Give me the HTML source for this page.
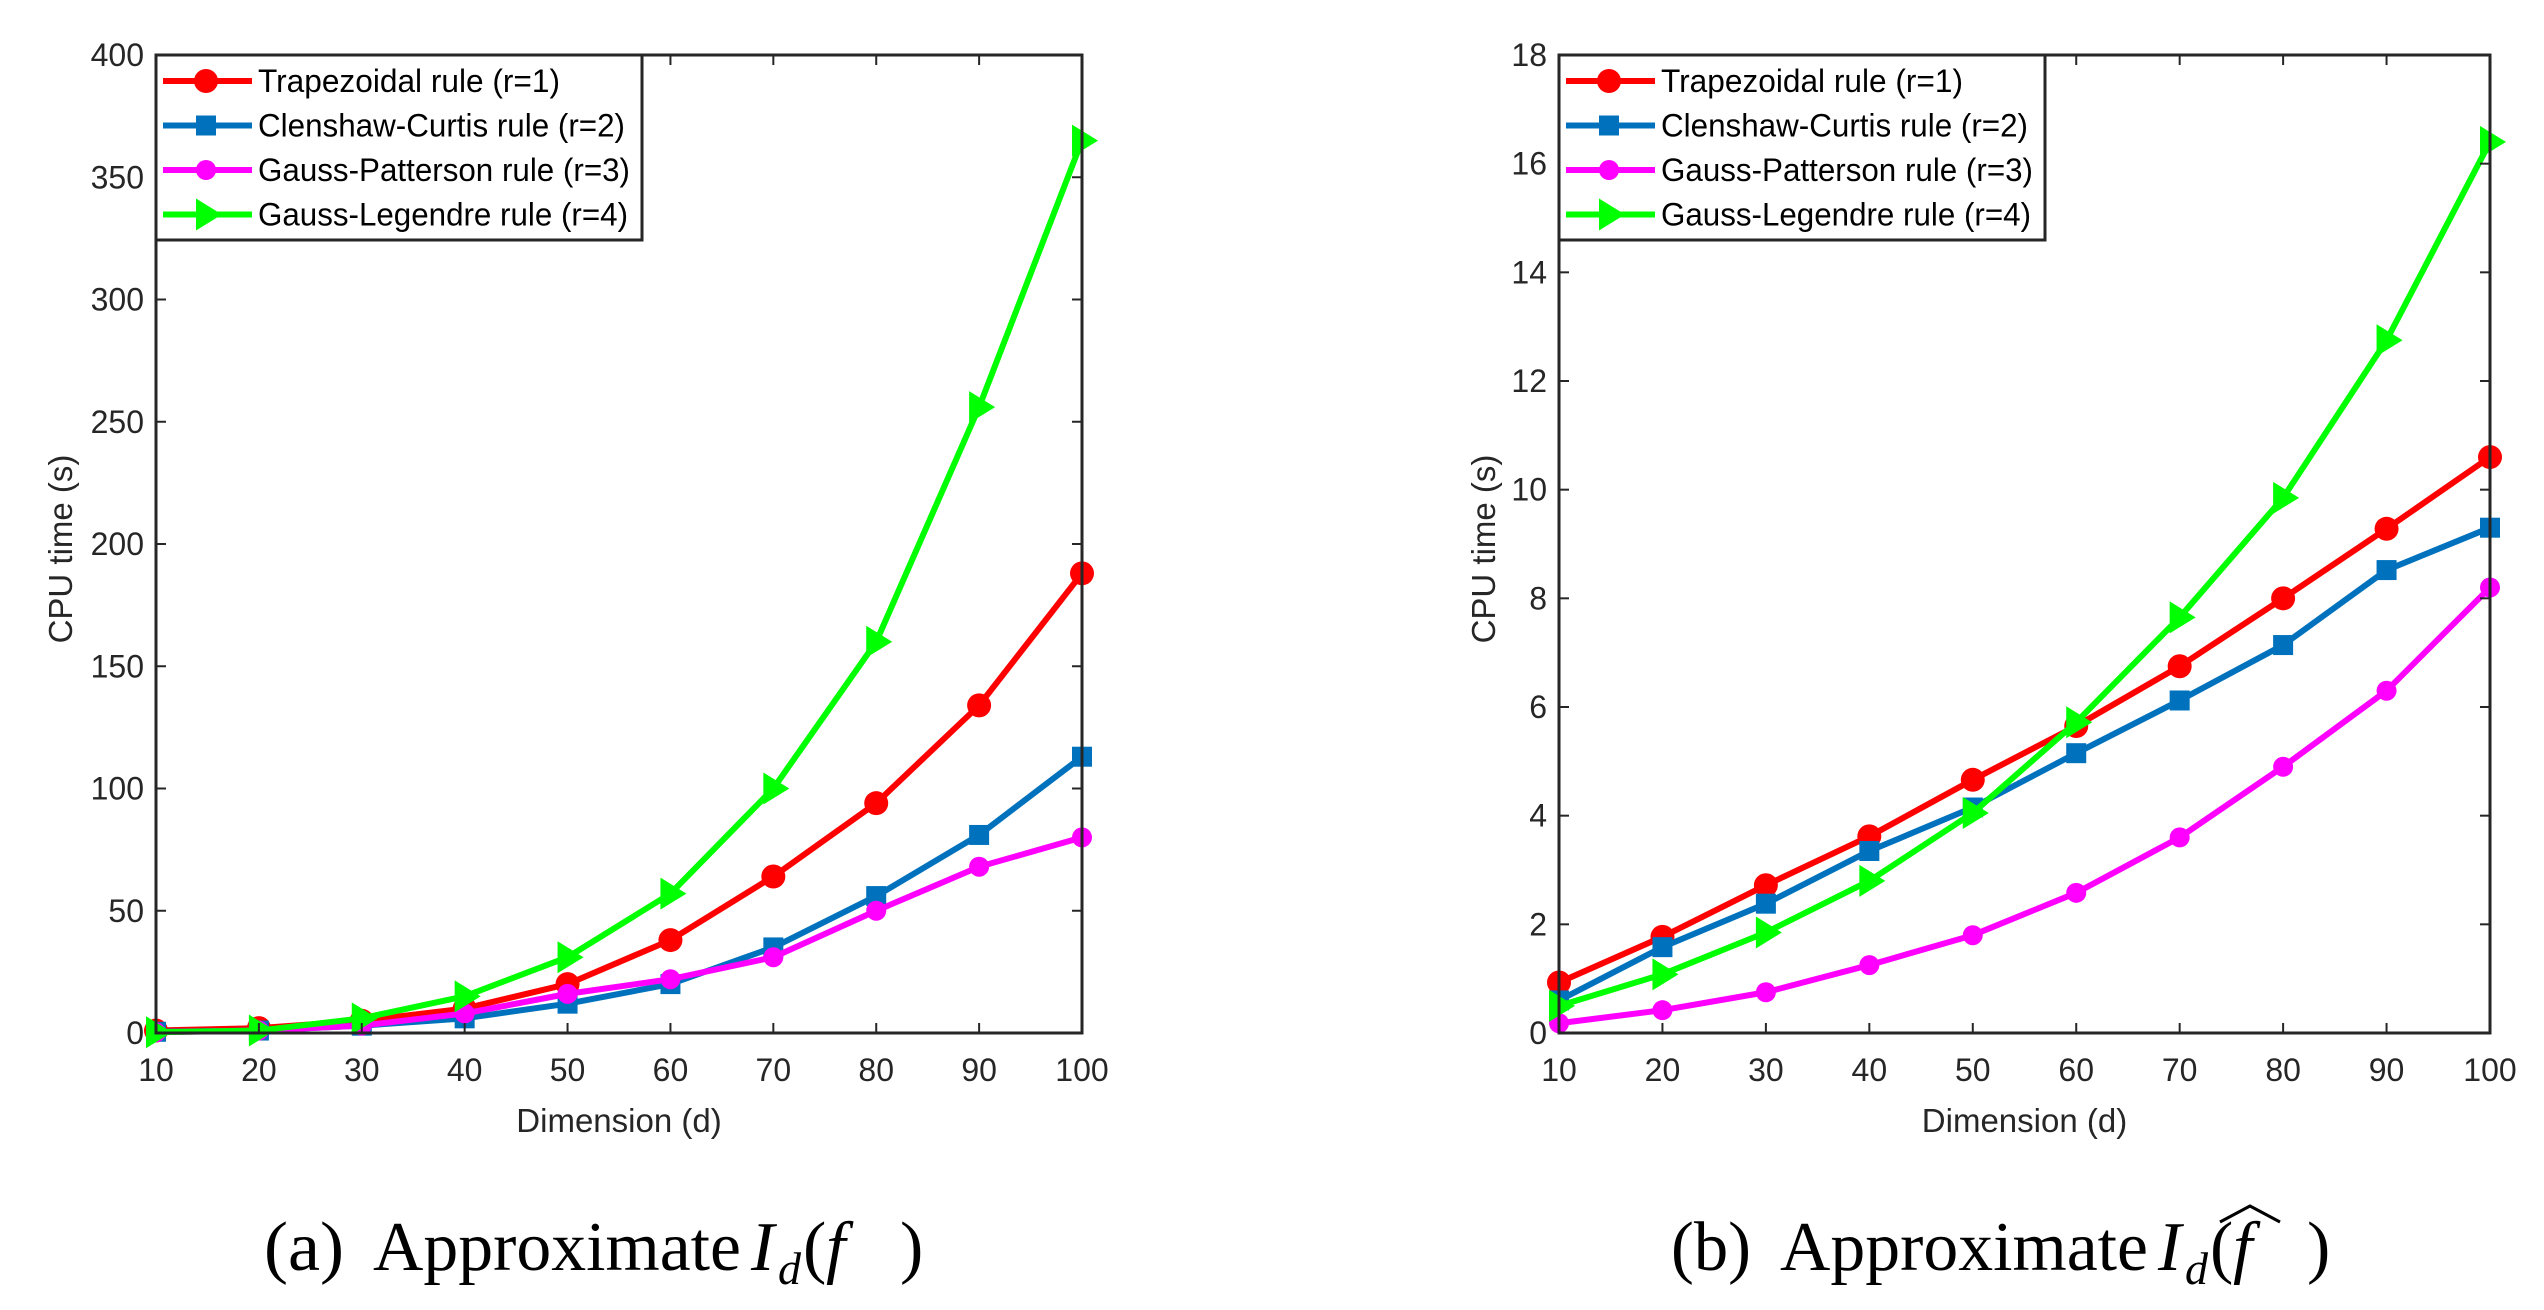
<!DOCTYPE html>
<html><head><meta charset="utf-8"><style>
html,body{margin:0;padding:0;background:#fff;}
svg{display:block;}
text{font-family:"Liberation Sans",sans-serif;fill:#262626;}
.cap{font-family:"Liberation Serif",serif;fill:#000;}
</style></head><body>
<svg id="fig" width="2544" height="1310" viewBox="0 0 2544 1310" xmlns="http://www.w3.org/2000/svg">
<g>
<text class="cap" x="264" y="1270" font-size="70" textLength="80" lengthAdjust="spacingAndGlyphs">(a)</text>
<text class="cap" x="373" y="1270" font-size="70" textLength="368" lengthAdjust="spacingAndGlyphs">Approximate</text>
<text class="cap" x="751" y="1270" font-size="70" font-style="italic">I</text>
<text class="cap" x="778" y="1284" font-size="46" font-style="italic">d</text>
<text class="cap" x="803" y="1270" font-size="70">(</text>
<text class="cap" x="826" y="1270" font-size="70" font-style="italic">f</text>
<text class="cap" x="900" y="1270" font-size="70">)</text>
</g>
<g>
<text class="cap" x="1671" y="1270" font-size="70" textLength="80" lengthAdjust="spacingAndGlyphs">(b)</text>
<text class="cap" x="1780" y="1270" font-size="70" textLength="368" lengthAdjust="spacingAndGlyphs">Approximate</text>
<text class="cap" x="2158" y="1270" font-size="70" font-style="italic">I</text>
<text class="cap" x="2185" y="1284" font-size="46" font-style="italic">d</text>
<text class="cap" x="2210" y="1270" font-size="70">(</text>
<text class="cap" x="2233" y="1270" font-size="70" font-style="italic">f</text>
<polyline points="2220,1222 2250,1206 2280,1222" fill="none" stroke="#000" stroke-width="3"/>
<text class="cap" x="2307" y="1270" font-size="70">)</text>
</g>
</svg>
<script>
const xCats = [10,20,30,40,50,60,70,80,90,100];
const seriesNames = ["Trapezoidal rule (r=1)","Clenshaw-Curtis rule (r=2)","Gauss-Patterson rule (r=3)","Gauss-Legendre rule (r=4)"];
const trapA = [1,2,5,10,20,38,64,94,134,188];
const ccA = [0.5,1,3,6,12,20,35,56,81,113];
const gpA = [0.3,1,3,8,16,22,31,50,68,80];
const glA = [0.3,1,6,15,31,57,100,160,256,365];
const trapB = [0.93,1.77,2.72,3.62,4.66,5.65,6.75,8.0,9.28,10.6];
const ccB = [0.6,1.58,2.38,3.35,4.15,5.15,6.12,7.14,8.52,9.3];
const gpB = [0.18,0.42,0.75,1.25,1.8,2.58,3.6,4.9,6.3,8.2];
const glB = [0.5,1.08,1.85,2.8,4.05,5.72,7.65,9.85,12.75,16.4];
const yTicksA = [0,50,100,150,200,250,300,350,400];
const yTicksB = [0,2,4,6,8,10,12,14,16,18];
const legendWidths = [302,367,372,370];
const colors = ["#ff0000","#0072bd","#ff00ff","#00ff00"];
const markers = ["circle","square","dot","tri"];
const NS = "http://www.w3.org/2000/svg";
const svg = document.getElementById('fig');
function mk(tag, attrs, parent){const e=document.createElementNS(NS,tag);for(const k in attrs)e.setAttribute(k,attrs[k]);(parent||svg).appendChild(e);return e;}
function marker(g,type,x,y,c){
  let m;
  if(type==="circle") m=mk('circle',{cx:x,cy:y,r:12,fill:c},g);
  else if(type==="dot") m=mk('circle',{cx:x,cy:y,r:10,fill:c},g);
  else if(type==="square") m=mk('rect',{x:x-10,y:y-10,width:20,height:20,fill:c},g);
  else m=mk('polygon',{points:(x-10)+','+(y-16)+' '+(x+16)+','+y+' '+(x-10)+','+(y+16),fill:c},g);
  return m;
}
function plot(id,L,R,T,B,yMax,yTicks,data,ylabX){
  const g=mk('g',{});
  
  
  const xs=v=>L+(v-10)/90*(R-L);
  const ys=v=>B-v/yMax*(B-T);
  data.forEach((arr,si)=>{
    const sg=mk('g',{},g);
    
    
    const pts=arr.map((v,i)=>xs(xCats[i])+','+ys(v)).join(' ');
    mk('polyline',{points:pts,fill:'none',stroke:colors[si],'stroke-width':6,'stroke-linejoin':'round'},sg);
    arr.forEach((v,i)=>{
      const m=marker(sg,markers[si],xs(xCats[i]),ys(v),colors[si]);
      
      
    });
  });
  const box=mk('rect',{x:L,y:T,width:R-L,height:B-T,fill:'none',stroke:'#262626','stroke-width':3},g);
  
  
  xCats.forEach(v=>{
    const x=xs(v);
    mk('line',{x1:x,y1:B,x2:x,y2:B-10,stroke:'#262626','stroke-width':2},g);
    mk('line',{x1:x,y1:T,x2:x,y2:T+10,stroke:'#262626','stroke-width':2},g);
    const t=mk('text',{x:x,y:1081,'font-size':32,'text-anchor':'middle'},g);
    t.textContent=v;
    
    
  });
  yTicks.forEach(v=>{
    const y=ys(v);
    mk('line',{x1:L,y1:y,x2:L+10,y2:y,stroke:'#262626','stroke-width':2},g);
    mk('line',{x1:R,y1:y,x2:R-10,y2:y,stroke:'#262626','stroke-width':2},g);
    const t=mk('text',{x:L-12,y:y+11,'font-size':32,'text-anchor':'end'},g);
    t.textContent=v;
    
    
  });
  const xl=mk('text',{x:(L+R)/2,y:1132,'font-size':33,'text-anchor':'middle'},g);
  xl.textContent='Dimension (d)';
  
  
  const yl=mk('text',{x:ylabX,y:549,'font-size':33,'text-anchor':'middle',transform:'rotate(-90 '+ylabX+' 549)'},g);
  yl.textContent='CPU time (s)';
  
  
  const lg=mk('g',{},g);
  
  
  mk('rect',{x:L,y:T,width:486,height:185,fill:'#fff',stroke:'#262626','stroke-width':3},lg);
  seriesNames.forEach((n,si)=>{
    const cy=T+26+si*44.5;
    const e=mk('g',{},lg);
    
    
    mk('line',{x1:L+7,y1:cy,x2:L+96,y2:cy,stroke:colors[si],'stroke-width':6},e);
    marker(e,markers[si],L+50,cy,colors[si]);
    const t=mk('text',{x:L+102,y:cy+11,'font-size':32,textLength:legendWidths[si],lengthAdjust:'spacingAndGlyphs'},e);
    t.style.fill='#000';
    t.textContent=n;
  });
}
plot('chart-a',156,1082,55,1033,400,yTicksA,[trapA,ccA,gpA,glA],72);
plot('chart-b',1559,2490,55,1033,18,yTicksB,[trapB,ccB,gpB,glB],1495);
</script>
</body></html>
